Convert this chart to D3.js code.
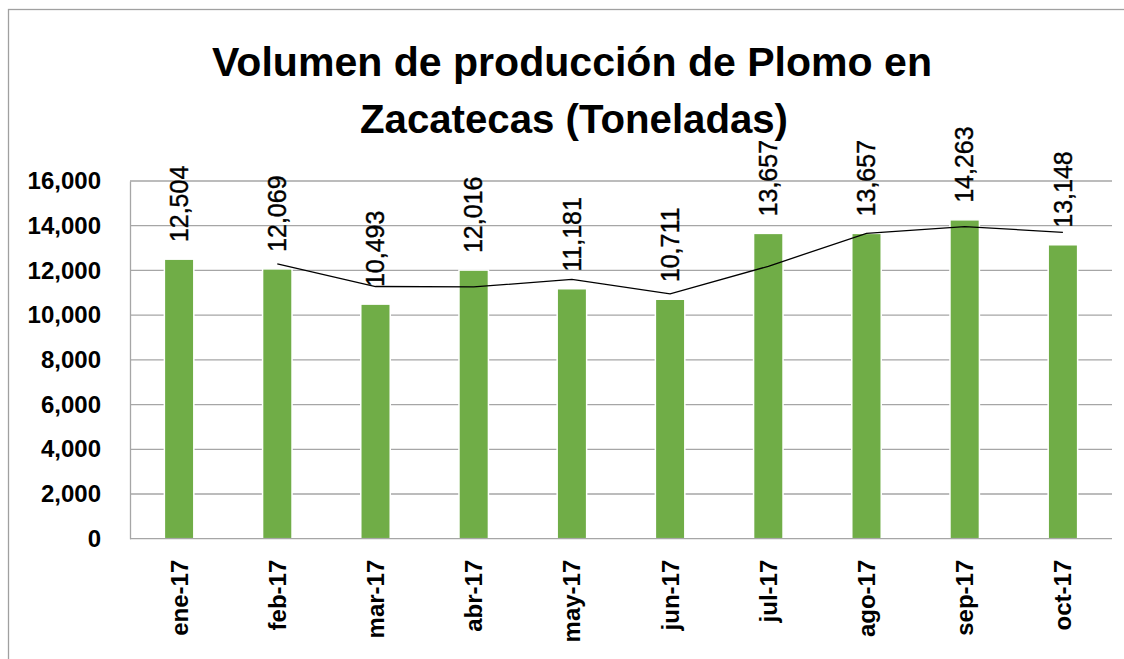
<!DOCTYPE html>
<html><head><meta charset="utf-8">
<script src="https://cdn.jsdelivr.net/npm/d3@7"></script>
<style>body{margin:0;background:#fff}svg{display:block}</style>
</head><body>
<svg id="c" width="1124" height="659"></svg>
<script>
const categories = ["ene-17","feb-17","mar-17","abr-17","may-17","jun-17","jul-17","ago-17","sep-17","oct-17"];
const production = [12504,12069,10493,12016,11181,10711,13657,13657,14263,13148];
const trendCategories = ["feb-17","mar-17","abr-17","may-17","jun-17","jul-17","ago-17","sep-17","oct-17"];
const trendValues = [12290,11280,11260,11600,10950,12185,13660,13960,13705];
const yTicks = [0,2000,4000,6000,8000,10000,12000,14000,16000];
const titleLines = ["Volumen de producción de Plomo en","Zacatecas (Toneladas)"];

const svg = d3.select("#c");
const m = {left:130, right:1112, top:181, bottom:538.7};

svg.append("rect").attr("x",8.5).attr("y",9.5).attr("width",1200).attr("height",700)
  .attr("fill","#fff").attr("stroke","#A0A0A0").attr("stroke-width",1.3);

const x = d3.scaleBand().domain(categories).range([m.left,m.right]).paddingInner(0.7).paddingOuter(0.35);
const y = d3.scaleLinear().domain([0,16000]).range([m.bottom,m.top]);

// gridlines
svg.append("g").selectAll("line").data(yTicks.filter(d=>d>0)).join("line")
  .attr("x1",m.left).attr("x2",m.right).attr("y1",d=>y(d)).attr("y2",d=>y(d))
  .attr("stroke","#A6A6A6").attr("stroke-width",1.3);

// y axis
const yAxis = d3.axisLeft(y).tickValues(yTicks).tickSize(0).tickPadding(29).tickFormat(d3.format(","));
const gy = svg.append("g").attr("transform",`translate(${m.left},0)`).call(yAxis);
gy.select(".domain").attr("stroke","#A6A6A6").attr("stroke-width",1.3);
gy.selectAll("text").attr("font-family","'Liberation Sans',Arial,sans-serif").attr("font-weight","bold")
  .attr("font-size",24).attr("fill","#000");

// bars
svg.append("g").selectAll("rect").data(production).join("rect")
  .attr("x",(d,i)=>x(categories[i])).attr("width",x.bandwidth())
  .attr("y",d=>y(d)).attr("height",d=>y(0)-y(d))
  .attr("fill","#70AD47").attr("stroke","#fff").attr("stroke-width",1.5);

// x axis
const xAxis = d3.axisBottom(x).tickSize(0).tickPadding(0);
const gx = svg.append("g").attr("transform",`translate(0,${m.bottom})`).call(xAxis);
gx.select(".domain").attr("stroke","#A6A6A6").attr("stroke-width",1.3).attr("d",`M${m.left},0H${m.right}`);
gx.selectAll("text").attr("font-family","'Liberation Sans',Arial,sans-serif").attr("font-weight","bold")
  .attr("font-size",24).attr("fill","#000")
  .attr("text-anchor","end").attr("dy","0.35em")
  .attr("transform","translate(0,21) rotate(-90)").attr("x",0).attr("y",0);

// trend line
const line = d3.line().x((d,i)=>x(trendCategories[i])+x.bandwidth()/2).y(d=>y(d));
svg.append("path").datum(trendValues).attr("d",line).attr("fill","none")
  .attr("stroke","#000").attr("stroke-width",1.3);

// data labels
svg.append("g").selectAll("text").data(production).join("text")
  .attr("transform",(d,i)=>`translate(${x(categories[i])+x.bandwidth()/2},${y(d)-17}) rotate(-90)`)
  .attr("dy","0.35em").attr("text-anchor","start")
  .attr("font-family","'Liberation Sans',Arial,sans-serif").attr("font-size",25).attr("fill","#000")
  .attr("stroke","#000").attr("stroke-width",0.4)
  .text(d=>d3.format(",")(d));

// title
svg.append("g").selectAll("text").data(titleLines).join("text")
  .attr("x",(d,i)=>[572,574][i]).attr("y",(d,i)=>76+i*57).attr("text-anchor","middle")
  .attr("font-family","'Liberation Sans',Arial,sans-serif").attr("font-weight","bold")
  .attr("font-size",40).attr("fill","#000")
  .attr("textLength",(d,i)=>[720,428][i]).attr("lengthAdjust","spacingAndGlyphs")
  .text(d=>d);
</script>
</body></html>
